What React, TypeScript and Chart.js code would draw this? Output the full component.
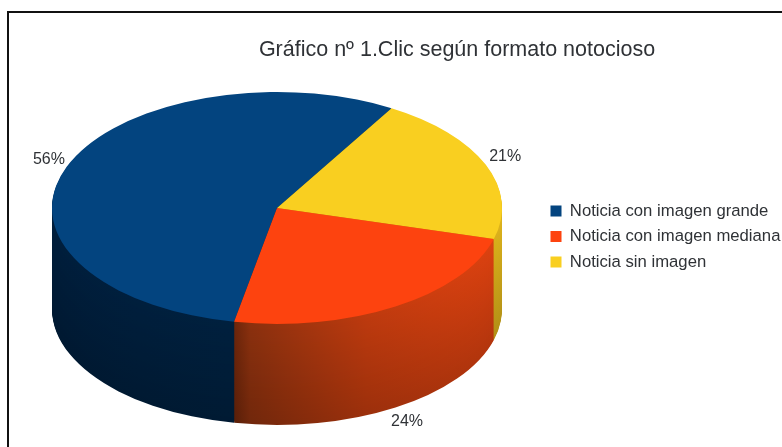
import React, { useEffect, useRef } from "react";
import { Chart, registerables } from "chart.js";

Chart.register(...registerables);

const chartTitle = "Gráfico nº 1.Clic según formato notocioso";
// Clockwise from the blue slice, as the picture shows them.
const categories = ["Noticia con imagen grande", "Noticia sin imagen", "Noticia con imagen mediana"];
const percentValues = [56, 21, 24];
const legendOrder = ["Noticia con imagen grande", "Noticia con imagen mediana", "Noticia sin imagen"];
const topColors = ["#03447f", "#f9cf20", "#fd430f"];
// Side shading, left to right: [offset, r, g, b]
const sideStops: number[][][] = [
  [[0, 0, 30, 60], [0.4, 0, 32, 62], [0.8, 2, 38, 72], [1, 2, 38, 72]],
  [[0, 190, 150, 20], [0.9, 190, 150, 20], [1, 222, 180, 28]],
  [[0.4, 104, 36, 10], [0.44, 138, 48, 14], [0.7, 190, 58, 14], [1, 222, 66, 16]],
];

const W = 782;
const H = 447;
const PIE_X = 277;
const PIE_Y = 208;
const PIE_RX = 225;
const PIE_RY = 116;
const PIE_DEPTH = 101;
const TILT = PIE_RY / PIE_RX;
const FONT = "'Liberation Sans', Arial, sans-serif";
const TEXT = "#2f3236";

function pieTransform(ctx: CanvasRenderingContext2D, arc: any, dy: number) {
  ctx.translate(PIE_X, PIE_Y + dy);
  ctx.scale(1, TILT);
  ctx.translate(-arc.x, -arc.y);
}

const pie3d = {
  id: "pie3d",
  afterLayout(chart: any) {
    // Title and legend sit where the reference has them, not where the layout puts them.
    const t = chart.titleBlock;
    const tw = t.right - t.left;
    t.left = 457 - tw / 2;
    t.right = t.left + tw;
    t.top = 37;
    t.bottom = t.top + t.height;
    const l = chart.legend;
    const lw = l.right - l.left;
    l.left = 541.7;
    l.right = l.left + lw;
    l.top = 0;
    l.bottom = 473;
  },
  beforeDatasetsDraw(chart: any) {
    const ctx: CanvasRenderingContext2D = chart.ctx;
    const arcs = chart.getDatasetMeta(0).data;
    // Side wall: the library's own arcs, repeated from the bottom layer upward.
    for (let d = PIE_DEPTH; d >= 1; d--) {
      const fade = 1 - 0.18 * (d / PIE_DEPTH);
      arcs.forEach((arc: any, i: number) => {
        const g = ctx.createLinearGradient(arc.x - PIE_RX, 0, arc.x + PIE_RX, 0);
        sideStops[i].forEach(([o, r, gr, b]) => {
          g.addColorStop(o, `rgb(${Math.round(r * fade)},${Math.round(gr * fade)},${Math.round(b * fade)})`);
        });
        const saved = arc.options;
        arc.options = { ...saved, backgroundColor: g };
        ctx.save();
        pieTransform(ctx, arc, d);
        arc.draw(ctx);
        ctx.restore();
        arc.options = saved;
      });
    }
    ctx.save();
    pieTransform(ctx, arcs[0], 0);
  },
  afterDatasetsDraw(chart: any) {
    const ctx: CanvasRenderingContext2D = chart.ctx;
    ctx.restore();
    const arcs = chart.getDatasetMeta(0).data;
    ctx.save();
    ctx.font = `16px ${FONT}`;
    ctx.fillStyle = TEXT;
    ctx.textAlign = "center";
    ctx.textBaseline = "middle";
    arcs.forEach((arc: any, i: number) => {
      const mid = (arc.startAngle + arc.endAngle) / 2;
      const cos = Math.cos(mid);
      const sin = Math.sin(mid);
      const x = PIE_X + (PIE_RX + 20) * cos + 1;
      const y = PIE_Y + (PIE_RY + 18) * sin + (sin > 0 ? PIE_DEPTH : 0) - 1;
      ctx.fillText(`${percentValues[i]}%`, x, y);
    });
    ctx.restore();
  },
};

export default function App() {
  const ref = useRef<HTMLCanvasElement>(null);
  useEffect(() => {
    const chart = new Chart(ref.current as HTMLCanvasElement, {
      type: "doughnut",
      data: {
        labels: categories,
        datasets: [
          {
            data: percentValues,
            backgroundColor: topColors,
            borderWidth: 0,
            radius: PIE_RX,
            cutout: 0,
            rotation: 191,
            clip: false,
          } as any,
        ],
      },
      options: {
        responsive: false,
        animation: false,
        events: [],
        plugins: {
          title: {
            display: true,
            text: chartTitle,
            color: TEXT,
            font: { family: FONT, size: 21.5, weight: "normal" },
            padding: 0,
          },
          legend: {
            position: "right",
            labels: {
              boxWidth: 11,
              boxHeight: 11,
              padding: 8.8,
              color: TEXT,
              font: { family: FONT, size: 16.7 },
              sort: (a: any, b: any) => legendOrder.indexOf(a.text) - legendOrder.indexOf(b.text),
            },
          },
          tooltip: { enabled: false },
        },
      },
      plugins: [pie3d],
    } as any);
    return () => chart.destroy();
  }, []);
  return (
    <div style={{ position: "fixed", left: 0, top: 0, width: W, height: H, background: "#fff", overflow: "hidden" }}>
      <canvas
        ref={ref}
        width={W}
        height={H}
        style={{ display: "block", position: "absolute", left: 0, top: 0, filter: "blur(0.4px)" }}
      />
      <div
        style={{
          position: "absolute",
          left: 7,
          top: 11,
          right: 0,
          bottom: 0,
          borderTop: "2px solid #111",
          borderLeft: "2px solid #111",
          pointerEvents: "none",
        }}
      />
    </div>
  );
}
